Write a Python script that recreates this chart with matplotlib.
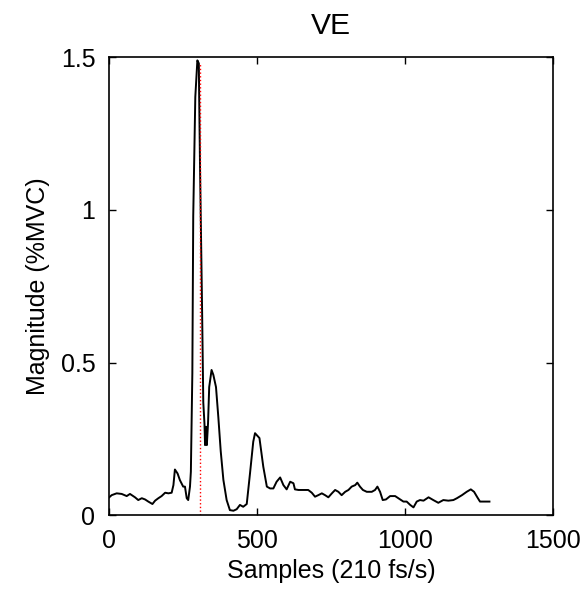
#!/usr/bin/env python3

import matplotlib
matplotlib.use("Agg")
import matplotlib.pyplot as plt

# VE trace
samples = [0, 8, 25, 42, 59, 70, 87, 98, 110, 121, 132, 146, 155, 166, 177, 189,
           200, 211, 217, 222, 231, 239, 250, 256, 262, 267, 273, 276, 281, 284,
           291, 298, 303, 304, 307, 314, 318, 322, 324, 327, 330, 334, 338, 346,
           352, 361, 369, 377, 386, 397, 408, 420, 431, 442, 453, 465, 476, 487,
           493, 508, 521, 533, 544, 555, 566, 578, 589, 600, 612, 623, 628, 640,
           657, 673, 685, 696, 707, 719, 730, 741, 753, 764, 775, 786, 798, 809,
           820, 832, 839, 848, 858, 871, 888, 899, 907, 916, 925, 936, 950, 967,
           984, 995, 1006, 1018, 1029, 1040, 1051, 1063, 1080, 1096, 1113, 1130,
           1147, 1164, 1176, 1193, 1209, 1223, 1234, 1245, 1254, 1262, 1286]
magnitude = [0.059, 0.066, 0.072, 0.070, 0.063, 0.070, 0.059, 0.050, 0.056, 0.052,
             0.045, 0.037, 0.048, 0.056, 0.063, 0.074, 0.072, 0.074, 0.099, 0.150,
             0.137, 0.115, 0.094, 0.094, 0.056, 0.050, 0.094, 0.143, 0.466, 0.980,
             1.370, 1.490, 1.480, 1.380, 1.140, 0.670, 0.370, 0.300, 0.230, 0.290,
             0.230, 0.300, 0.420, 0.476, 0.460, 0.420, 0.320, 0.210, 0.116, 0.050,
             0.017, 0.015, 0.020, 0.034, 0.028, 0.037, 0.137, 0.241, 0.269, 0.253,
             0.159, 0.094, 0.088, 0.088, 0.110, 0.124, 0.099, 0.085, 0.110, 0.105,
             0.085, 0.083, 0.083, 0.083, 0.074, 0.061, 0.066, 0.072, 0.066, 0.059,
             0.072, 0.083, 0.077, 0.066, 0.077, 0.083, 0.094, 0.099, 0.107, 0.094,
             0.083, 0.077, 0.077, 0.083, 0.094, 0.077, 0.050, 0.052, 0.063, 0.063,
             0.052, 0.045, 0.045, 0.034, 0.026, 0.045, 0.050, 0.048, 0.059, 0.050,
             0.041, 0.050, 0.048, 0.050, 0.056, 0.066, 0.077, 0.085, 0.077, 0.059,
             0.045, 0.045, 0.045]

onset_x = 307
onset_top = 1.48

xticks = [0, 500, 1000, 1500]
yticks = [0, 0.5, 1, 1.5]
ytick_labels = ['0', '0.5', '1', '1.5']

plt.rcParams['font.family'] = ['Liberation Sans', 'DejaVu Sans']
plt.rcParams['font.size'] = 18

fig = plt.figure(figsize=(5.85, 5.89), dpi=100)
ax = fig.add_axes([0.1868, 0.1251, 0.758, 0.7776])

ax.plot(samples, magnitude, color='black', linewidth=1.4)
ax.plot([onset_x, onset_x], [0, onset_top], color='red', linestyle=':', linewidth=1.0)

ax.set_xlim(0, 1500)
ax.set_ylim(0, 1.5)
ax.set_xticks(xticks)
ax.set_yticks(yticks)
ax.set_yticklabels(ytick_labels)
ax.tick_params(direction='in', length=5, width=1, top=True, right=True, pad=10)
for s in ax.spines.values():
    s.set_linewidth(1.2)

ax.set_title('VE', pad=17)
ax.set_xlabel('Samples (210 fs/s)', labelpad=4)
ax.set_ylabel('Magnitude (%MVC)', labelpad=8)

plt.savefig('out.png', dpi=100)
